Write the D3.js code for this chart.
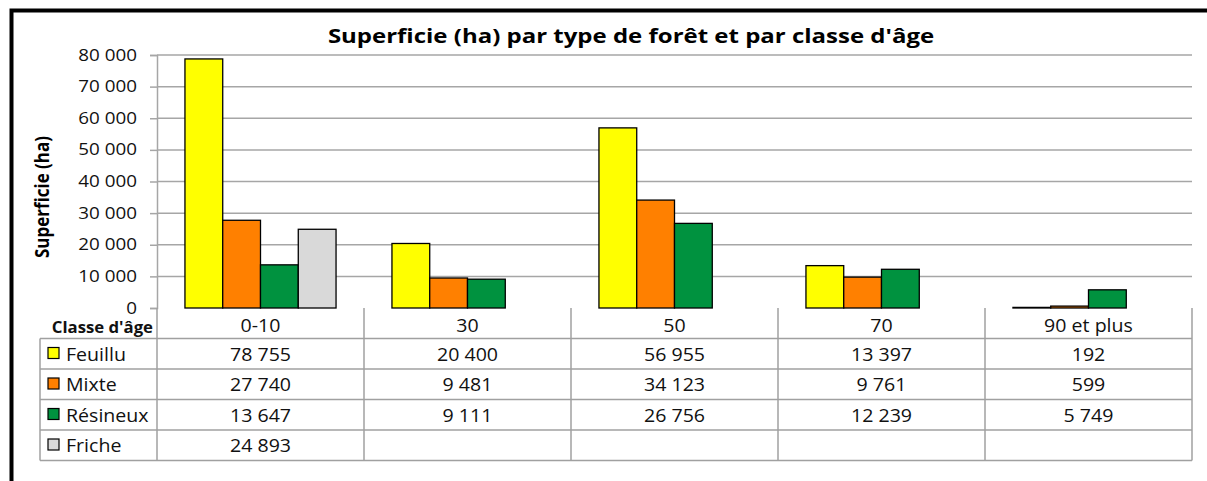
<!DOCTYPE html>
<html>
<head>
<meta charset="utf-8">
<script src="https://cdn.jsdelivr.net/npm/d3@7"></script>
<style>
  body { margin: 0; background: #fff; }
  svg { display: block; font-family: "Open Sans", sans-serif; }
</style>
</head>
<body>
<div id="chart"></div>
<script>
// données
const classes = ["0-10", "30", "50", "70", "90 et plus"];
const series = ["Feuillu", "Mixte", "Résineux", "Friche"];
const feuillu = [78755, 20400, 56955, 13397, 192];
const mixte = [27740, 9481, 34123, 9761, 599];
const resineux = [13647, 9111, 26756, 12239, 5749];
const friche = [24893, null, null, null, null];
const yTicks = [0, 10000, 20000, 30000, 40000, 50000, 60000, 70000, 80000];
const colors = ["#ffff00", "#ff8000", "#00923f", "#d9d9d9"];

const values = [feuillu, mixte, resineux, friche];

const width = 1207, height = 481;
const plotLeft = 157, plotRight = 1192, plotTop = 55, plotBottom = 308;
const rowH = 30.5;

const fmt = v => v == null ? "" : d3.format(",")(v).replace(/,/g, " ");

const svg = d3.select("#chart").append("svg")
    .attr("width", width)
    .attr("height", height);

// texte étiré horizontalement
function txt(g, x, y, s, sx) {
    return g.append("text")
        .attr("transform", "translate(" + x + "," + y + ") scale(" + (sx || 1.12) + ",1)")
        .text(s);
}

// échelles
const x0 = d3.scaleBand().domain(classes).range([plotLeft, plotRight]).padding(0);
const x1 = d3.scaleBand().domain(series).range([0, x0.bandwidth()]).paddingInner(0).paddingOuter(0.74);
const y = d3.scaleLinear().domain([0, 80000]).range([plotBottom, plotTop]);

// grille
svg.append("g")
    .selectAll("line")
    .data(yTicks.slice(1))
    .enter().append("line")
    .attr("x1", plotLeft).attr("x2", plotRight)
    .attr("y1", d => y(d)).attr("y2", d => y(d))
    .attr("stroke", "#a6a6a6").attr("stroke-width", 1.5);

// axe Y
const yAxis = svg.append("g")
    .attr("transform", "translate(" + plotLeft + ",0)")
    .call(d3.axisLeft(y).tickValues(yTicks).tickSize(7).tickFormat(""));
yAxis.select(".domain").attr("stroke", "#a6a6a6").attr("stroke-width", 1.5);
yAxis.selectAll(".tick line").attr("stroke", "#a6a6a6").attr("stroke-width", 1.5);

const tl = svg.append("g").attr("font-size", 16.5).attr("fill", "#111").attr("text-anchor", "end");
yTicks.forEach(t => txt(tl, 137, y(t) + 5.5, fmt(t), 1.14));

// barres
const groups = svg.append("g")
    .selectAll("g")
    .data(classes)
    .enter().append("g")
    .attr("transform", d => "translate(" + x0(d) + ",0)");

groups.selectAll("rect")
    .data((c, i) => series.map((s, k) => ({ s: s, v: values[k][i], k: k })).filter(d => d.v != null))
    .enter().append("rect")
    .attr("x", d => x1(d.s))
    .attr("width", x1.bandwidth())
    .attr("y", d => y(d.v))
    .attr("height", d => y(0) - y(d.v))
    .attr("fill", d => colors[d.k])
    .attr("stroke", "#000")
    .attr("stroke-width", 1.3);

// tableau de données
const tab = svg.append("g").attr("stroke", "#a0a0a0").attr("stroke-width", 1.5);
const tLeft = 40;
const rowsY = d3.range(series.length + 1).map(i => plotBottom + rowH + i * rowH);
tab.selectAll(".h").data(rowsY).enter().append("line")
    .attr("x1", tLeft).attr("x2", plotRight)
    .attr("y1", d => d).attr("y2", d => d);
tab.append("line").attr("x1", tLeft).attr("x2", tLeft)
    .attr("y1", rowsY[0]).attr("y2", rowsY[rowsY.length - 1]);
tab.selectAll(".v").data(classes.map(c => x0(c)).concat([plotRight])).enter().append("line")
    .attr("x1", d => d).attr("x2", d => d)
    .attr("y1", plotBottom).attr("y2", rowsY[rowsY.length - 1]);

const tt = svg.append("g").attr("font-size", 17.5).attr("fill", "#111");
txt(tt, 153, plotBottom + 25, "Classe d'âge", 1.08).attr("text-anchor", "end").attr("font-weight", "bold").attr("font-size", 15.5);
classes.forEach(c => txt(tt, x0(c) + x0.bandwidth() / 2, plotBottom + 24, c).attr("text-anchor", "middle"));

series.forEach((s, k) => {
    const ry = rowsY[k];
    svg.append("rect")
        .attr("x", 48).attr("y", ry + 9)
        .attr("width", 11).attr("height", 11)
        .attr("fill", colors[k]).attr("stroke", "#000").attr("stroke-width", 1.2);
    txt(tt, 66, ry + 22, s);
    classes.forEach((c, i) => {
        txt(tt, x0(c) + x0.bandwidth() / 2, ry + 22, fmt(values[k][i])).attr("text-anchor", "middle");
    });
});

// titres
txt(svg, 631, 43, "Superficie (ha) par type de forêt et par classe d'âge", 1.2)
    .attr("text-anchor", "middle").attr("font-weight", "bold").attr("font-size", 20).attr("fill", "#000");

svg.append("text")
    .attr("transform", "translate(49,197) rotate(-90) scale(1,1.12)")
    .attr("text-anchor", "middle").attr("font-weight", "bold").attr("font-size", 17).attr("fill", "#000")
    .text("Superficie (ha)");

// cadre
svg.append("path")
    .attr("d", "M11.5," + height + "V10.5H" + width)
    .attr("fill", "none").attr("stroke", "#000").attr("stroke-width", 4);
</script>
</body>
</html>
